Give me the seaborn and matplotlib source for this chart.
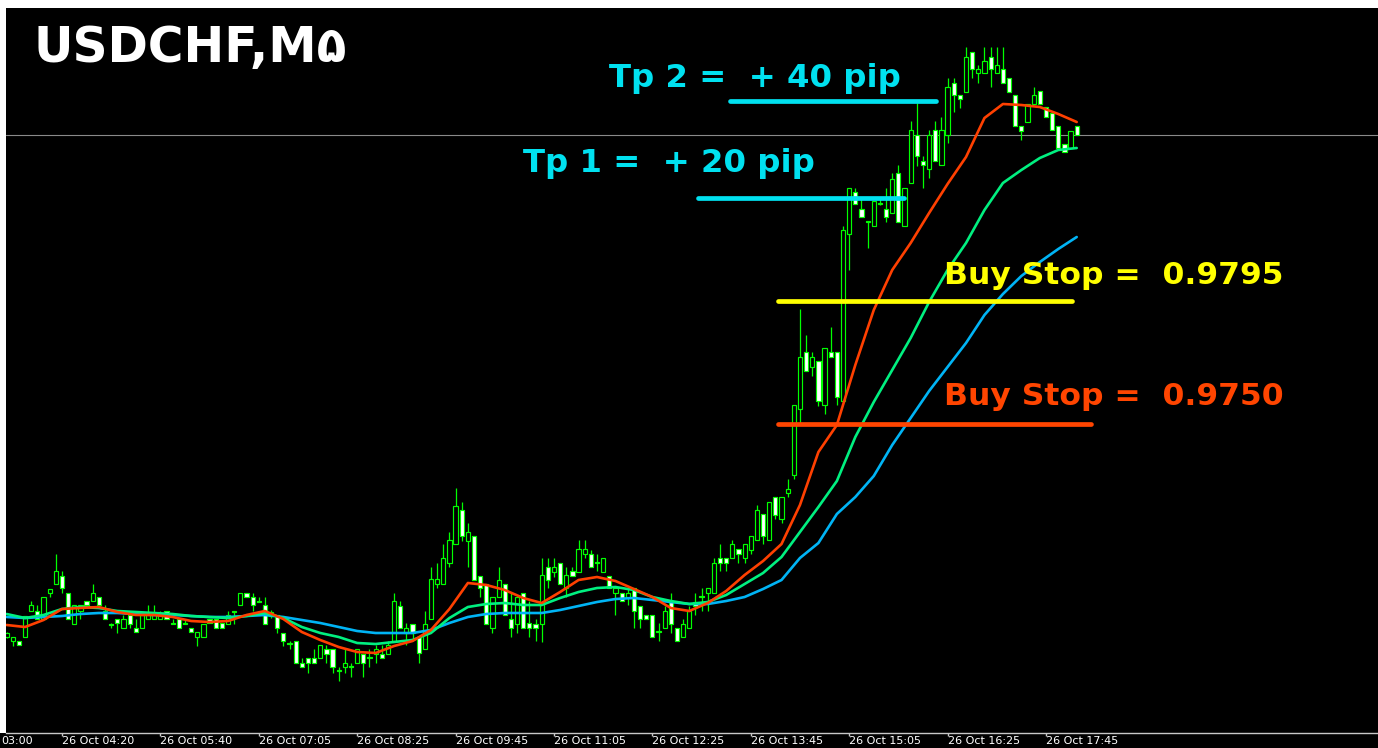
import numpy as np
import pandas as pd
import matplotlib
matplotlib.use("Agg")
import matplotlib.pyplot as plt
from matplotlib.patches import Rectangle
import seaborn as sns

# ---------------- data ----------------
symbol = "USDCHF,M۵"

opens = [
    0.96652, 0.96636, 0.96636, 0.96652, 0.96756, 0.96756, 0.96724, 0.96828, 0.96864, 0.96896,
    0.96828, 0.96704, 0.96756, 0.96796, 0.96796, 0.96812, 0.96756, 0.96704, 0.96724, 0.96688,
    0.96740, 0.96688, 0.96688, 0.96724, 0.96724, 0.96724, 0.96756, 0.96708, 0.96724, 0.96708,
    0.96688, 0.96652, 0.96652, 0.96724, 0.96724, 0.96708, 0.96704, 0.96756, 0.96780, 0.96828,
    0.96812, 0.96796, 0.96780, 0.96736, 0.96740, 0.96668, 0.96628, 0.96636, 0.96548, 0.96568,
    0.96568, 0.96568, 0.96604, 0.96604, 0.96520, 0.96532, 0.96536, 0.96548, 0.96584, 0.96572,
    0.96584, 0.96584, 0.96584, 0.96636, 0.96776, 0.96668, 0.96704, 0.96652, 0.96604, 0.96724,
    0.96864, 0.96864, 0.96948, 0.97024, 0.97160, 0.97036, 0.97056, 0.96896, 0.96864, 0.96688,
    0.96812, 0.96864, 0.96724, 0.96704, 0.96828, 0.96708, 0.96704, 0.96704, 0.96932, 0.96912,
    0.96948, 0.96848, 0.96916, 0.96912, 0.96984, 0.96984, 0.96952, 0.96912, 0.96896, 0.96828,
    0.96828, 0.96812, 0.96848, 0.96776, 0.96740, 0.96740, 0.96676, 0.96688, 0.96792, 0.96688,
    0.96652, 0.96688, 0.96792, 0.96816, 0.96828, 0.96828, 0.96968, 0.96968, 0.96968, 0.97004,
    0.96968, 0.97000, 0.97040, 0.97144, 0.97040, 0.97212, 0.97124, 0.97228, 0.97300, 0.97564,
    0.97792, 0.97732, 0.97756, 0.97580, 0.97792, 0.97792, 0.97596, 0.98264, 0.98432, 0.98364,
    0.98316, 0.98296, 0.98388, 0.98364, 0.98348, 0.98508, 0.98296, 0.98468, 0.98660, 0.98556,
    0.98524, 0.98680, 0.98540, 0.98660, 0.98868, 0.98820, 0.98832, 0.98992, 0.98908, 0.98908,
    0.98972, 0.98908, 0.98924, 0.98888, 0.98820, 0.98696, 0.98712, 0.98784, 0.98836, 0.98772,
    0.98748, 0.98696, 0.98624, 0.98608, 0.98696,
]
highs = [
    0.96672, 0.96652, 0.96636, 0.96736, 0.96796, 0.96780, 0.96812, 0.96844, 0.96984, 0.96916,
    0.96828, 0.96780, 0.96780, 0.96796, 0.96864, 0.96812, 0.96780, 0.96708, 0.96724, 0.96740,
    0.96740, 0.96724, 0.96740, 0.96780, 0.96780, 0.96756, 0.96756, 0.96724, 0.96724, 0.96724,
    0.96688, 0.96672, 0.96704, 0.96724, 0.96724, 0.96708, 0.96756, 0.96756, 0.96828, 0.96828,
    0.96828, 0.96812, 0.96812, 0.96760, 0.96740, 0.96668, 0.96636, 0.96636, 0.96568, 0.96568,
    0.96604, 0.96620, 0.96620, 0.96604, 0.96532, 0.96604, 0.96548, 0.96604, 0.96584, 0.96604,
    0.96620, 0.96620, 0.96636, 0.96828, 0.96796, 0.96708, 0.96704, 0.96652, 0.96756, 0.96932,
    0.96948, 0.97024, 0.97072, 0.97248, 0.97192, 0.97108, 0.97056, 0.96896, 0.96864, 0.96812,
    0.96932, 0.96864, 0.96828, 0.96812, 0.96828, 0.96796, 0.96724, 0.96968, 0.96968, 0.96968,
    0.96948, 0.96932, 0.96932, 0.97040, 0.97040, 0.97000, 0.96984, 0.96968, 0.96896, 0.96848,
    0.96828, 0.96848, 0.96848, 0.96776, 0.96740, 0.96740, 0.96708, 0.96776, 0.96828, 0.96688,
    0.96724, 0.96776, 0.96828, 0.96848, 0.96848, 0.96968, 0.97024, 0.96968, 0.97040, 0.97004,
    0.97024, 0.97056, 0.97180, 0.97144, 0.97192, 0.97212, 0.97212, 0.97284, 0.97580, 0.97964,
    0.97860, 0.97792, 0.97756, 0.97808, 0.97892, 0.97792, 0.98296, 0.98448, 0.98448, 0.98404,
    0.98316, 0.98396, 0.98412, 0.98448, 0.98508, 0.98540, 0.98448, 0.98716, 0.98788, 0.98576,
    0.98680, 0.98716, 0.98732, 0.98888, 0.98888, 0.98820, 0.99012, 0.98992, 0.98940, 0.99012,
    0.99012, 0.99012, 0.99012, 0.98888, 0.98820, 0.98696, 0.98784, 0.98852, 0.98836, 0.98772,
    0.98748, 0.98696, 0.98624, 0.98676, 0.98696,
]
lows = [
    0.96648, 0.96616, 0.96620, 0.96652, 0.96756, 0.96724, 0.96724, 0.96812, 0.96864, 0.96828,
    0.96724, 0.96704, 0.96724, 0.96780, 0.96796, 0.96780, 0.96724, 0.96688, 0.96668, 0.96688,
    0.96688, 0.96672, 0.96688, 0.96724, 0.96724, 0.96724, 0.96724, 0.96704, 0.96688, 0.96704,
    0.96672, 0.96616, 0.96652, 0.96708, 0.96688, 0.96688, 0.96704, 0.96704, 0.96780, 0.96812,
    0.96756, 0.96792, 0.96704, 0.96728, 0.96668, 0.96616, 0.96604, 0.96548, 0.96532, 0.96508,
    0.96548, 0.96568, 0.96548, 0.96508, 0.96476, 0.96508, 0.96492, 0.96548, 0.96492, 0.96532,
    0.96548, 0.96568, 0.96584, 0.96636, 0.96688, 0.96620, 0.96636, 0.96548, 0.96604, 0.96724,
    0.96848, 0.96864, 0.96932, 0.97024, 0.97036, 0.96932, 0.96880, 0.96812, 0.96704, 0.96668,
    0.96812, 0.96740, 0.96652, 0.96668, 0.96688, 0.96652, 0.96636, 0.96632, 0.96848, 0.96892,
    0.96864, 0.96812, 0.96896, 0.96912, 0.96968, 0.96932, 0.96916, 0.96912, 0.96848, 0.96740,
    0.96796, 0.96780, 0.96688, 0.96688, 0.96724, 0.96652, 0.96636, 0.96688, 0.96668, 0.96636,
    0.96652, 0.96688, 0.96740, 0.96756, 0.96756, 0.96828, 0.96916, 0.96916, 0.96968, 0.96948,
    0.96948, 0.96984, 0.97040, 0.97024, 0.97040, 0.97124, 0.97108, 0.97212, 0.97284, 0.97508,
    0.97716, 0.97696, 0.97576, 0.97544, 0.97772, 0.97580, 0.97596, 0.98120, 0.98384, 0.98332,
    0.98208, 0.98296, 0.98380, 0.98312, 0.98348, 0.98312, 0.98296, 0.98468, 0.98536, 0.98448,
    0.98488, 0.98556, 0.98540, 0.98628, 0.98752, 0.98768, 0.98832, 0.98888, 0.98868, 0.98908,
    0.98852, 0.98908, 0.98868, 0.98832, 0.98696, 0.98640, 0.98712, 0.98784, 0.98784, 0.98732,
    0.98680, 0.98608, 0.98592, 0.98608, 0.98660,
]
closes = [
    0.96668, 0.96652, 0.96620, 0.96736, 0.96780, 0.96724, 0.96812, 0.96844, 0.96916, 0.96848,
    0.96724, 0.96780, 0.96780, 0.96780, 0.96828, 0.96780, 0.96724, 0.96700, 0.96708, 0.96724,
    0.96704, 0.96672, 0.96740, 0.96740, 0.96740, 0.96740, 0.96724, 0.96704, 0.96688, 0.96704,
    0.96672, 0.96672, 0.96704, 0.96708, 0.96688, 0.96688, 0.96740, 0.96752, 0.96828, 0.96812,
    0.96780, 0.96792, 0.96704, 0.96752, 0.96688, 0.96636, 0.96624, 0.96548, 0.96532, 0.96548,
    0.96548, 0.96620, 0.96584, 0.96532, 0.96516, 0.96548, 0.96532, 0.96604, 0.96548, 0.96568,
    0.96604, 0.96568, 0.96620, 0.96796, 0.96688, 0.96688, 0.96668, 0.96588, 0.96704, 0.96884,
    0.96884, 0.96968, 0.97040, 0.97176, 0.97056, 0.97072, 0.96880, 0.96848, 0.96704, 0.96812,
    0.96880, 0.96740, 0.96688, 0.96812, 0.96688, 0.96688, 0.96688, 0.96900, 0.96880, 0.96932,
    0.96864, 0.96900, 0.96896, 0.97004, 0.97004, 0.96932, 0.96948, 0.96968, 0.96848, 0.96848,
    0.96796, 0.96828, 0.96756, 0.96724, 0.96724, 0.96652, 0.96672, 0.96756, 0.96704, 0.96636,
    0.96704, 0.96756, 0.96776, 0.96812, 0.96848, 0.96948, 0.96948, 0.96948, 0.97024, 0.96984,
    0.97024, 0.97056, 0.97160, 0.97056, 0.97192, 0.97140, 0.97212, 0.97244, 0.97580, 0.97772,
    0.97716, 0.97772, 0.97596, 0.97808, 0.97772, 0.97612, 0.98280, 0.98448, 0.98384, 0.98332,
    0.98312, 0.98396, 0.98384, 0.98332, 0.98484, 0.98312, 0.98448, 0.98680, 0.98576, 0.98540,
    0.98660, 0.98556, 0.98680, 0.98852, 0.98820, 0.98804, 0.98972, 0.98924, 0.98924, 0.98956,
    0.98924, 0.98940, 0.98868, 0.98832, 0.98696, 0.98676, 0.98784, 0.98820, 0.98784, 0.98732,
    0.98680, 0.98608, 0.98592, 0.98676, 0.98660,
]

# moving averages read every 3rd bar
ma_bar = list(range(0, 175, 3))
ma_fast = [
    0.96700, 0.96692, 0.96720, 0.96764, 0.96768, 0.96772, 0.96752, 0.96740, 0.96740, 0.96732,
    0.96716, 0.96712, 0.96716, 0.96740, 0.96756, 0.96724, 0.96672, 0.96640, 0.96612, 0.96592,
    0.96588, 0.96616, 0.96636, 0.96680, 0.96764, 0.96868, 0.96860, 0.96840, 0.96808, 0.96788,
    0.96832, 0.96880, 0.96892, 0.96876, 0.96844, 0.96812, 0.96768, 0.96756, 0.96788, 0.96836,
    0.96900, 0.96956, 0.97024, 0.97180, 0.97392, 0.97500, 0.97740, 0.97960, 0.98120, 0.98228,
    0.98348, 0.98464, 0.98572, 0.98728, 0.98784, 0.98780, 0.98772, 0.98744, 0.98712,
]
ma_mid = [
    0.96744, 0.96728, 0.96740, 0.96764, 0.96772, 0.96768, 0.96756, 0.96752, 0.96748, 0.96744,
    0.96736, 0.96732, 0.96728, 0.96736, 0.96748, 0.96728, 0.96692, 0.96668, 0.96652, 0.96628,
    0.96624, 0.96632, 0.96640, 0.96668, 0.96728, 0.96772, 0.96784, 0.96788, 0.96780, 0.96780,
    0.96808, 0.96832, 0.96848, 0.96852, 0.96840, 0.96812, 0.96796, 0.96784, 0.96792, 0.96820,
    0.96864, 0.96908, 0.96972, 0.97072, 0.97172, 0.97276, 0.97452, 0.97592, 0.97720, 0.97848,
    0.97992, 0.98120, 0.98228, 0.98360, 0.98468, 0.98520, 0.98568, 0.98600, 0.98608,
]
ma_slow = [
    0.96732, 0.96728, 0.96732, 0.96736, 0.96744, 0.96748, 0.96748, 0.96744, 0.96740, 0.96740,
    0.96736, 0.96732, 0.96732, 0.96736, 0.96740, 0.96732, 0.96720, 0.96708, 0.96692, 0.96676,
    0.96668, 0.96668, 0.96668, 0.96680, 0.96708, 0.96732, 0.96744, 0.96748, 0.96748, 0.96748,
    0.96760, 0.96776, 0.96792, 0.96804, 0.96808, 0.96800, 0.96792, 0.96784, 0.96784, 0.96796,
    0.96812, 0.96844, 0.96880, 0.96968, 0.97028, 0.97144, 0.97212, 0.97296, 0.97420, 0.97528,
    0.97636, 0.97732, 0.97828, 0.97940, 0.98024, 0.98096, 0.98152, 0.98204, 0.98252,
]

tick_labels = [
    "26 Oct 03:00", "26 Oct 04:20", "26 Oct 05:40", "26 Oct 07:05",
    "26 Oct 08:25", "26 Oct 09:45", "26 Oct 11:05", "26 Oct 12:25",
    "26 Oct 13:45", "26 Oct 15:05", "26 Oct 16:25", "26 Oct 17:45",
]

level_texts = ["Tp 2 =  + 40 pip", "Tp 1 =  + 20 pip",
               "Buy Stop =  0.9795", "Buy Stop =  0.9750"]
level_prices = [0.98796, 0.98408, 0.97996, 0.97504]

# ---------------- layout / style ----------------
W, H = 1378, 748
BG = "black"
CANDLE = "#00FF00"
LEVEL_COLORS = ["#00E1F0", "#00E1F0", "#FFFF00", "#FF4500"]
LEVEL_SPANS = [(117.7, 151.1), (112.5, 145.9), (125.5, 173.3), (125.5, 176.3)]
LEVEL_FONT = [23.3, 23.3, 22.6, 22.6]
TEXT_POS = [(97.9, 0.98852), (83.9, 0.98512), (152.4, 0.98062), (152.4, 0.97578)]
MA_COLORS = {"fast": "#FF4000", "mid": "#00F080", "slow": "#00B4F5"}
FIRST_TICK, TICK_STEP = -7, 16
TICK_FONT = 8.0

sns.set_theme(style="dark")
plt.rcParams["font.family"] = ["DejaVu Sans"]

fig = plt.figure(figsize=(W / 100, H / 100), dpi=100, facecolor="white")
# black chart window and the full-width time-scale strip
fig.patches.append(Rectangle((6 / W, 0), 1 - 6 / W, 1 - 8 / H,
                             transform=fig.transFigure, facecolor=BG,
                             edgecolor="none", zorder=-5))
fig.patches.append(Rectangle((0, 0), 1, 15 / H,
                             transform=fig.transFigure, facecolor=BG,
                             edgecolor="none", zorder=-5))
ax = fig.add_axes([6 / W, 1 - 733 / H, 1 - 6 / W, 725 / H])
ax.set_zorder(2)
ax.set_facecolor(BG)

o = np.array(opens); h = np.array(highs); l = np.array(lows); c = np.array(closes)
idx = np.arange(len(o))
bull = c >= o

# wicks
ax.vlines(idx, l, h, color=CANDLE, linewidth=0.9, zorder=2)
# bodies
body_bottom = np.minimum(o, c)
body_height = np.abs(c - o)
ax.bar(idx, body_height, bottom=body_bottom, width=0.68,
       color=np.where(bull, "black", "white"), edgecolor=CANDLE,
       linewidth=0.85, zorder=3)

# moving averages via seaborn
n = len(ma_bar)
ma_df = pd.DataFrame({
    "bar": ma_bar * 3,
    "price": ma_slow + ma_mid + ma_fast,
    "ma": ["slow"] * n + ["mid"] * n + ["fast"] * n,
})
sns.lineplot(data=ma_df, x="bar", y="price", hue="ma", palette=MA_COLORS,
             hue_order=["slow", "mid", "fast"], legend=False, linewidth=1.9,
             ax=ax, zorder=4)

# current price line
ax.axhline(c[-1], color="#8A8A8A", linewidth=0.8, zorder=1)

# trade levels and labels
for txt, price, col, (x0, x1), (tx, ty), fs in zip(level_texts, level_prices,
                                                  LEVEL_COLORS, LEVEL_SPANS,
                                                  TEXT_POS, LEVEL_FONT):
    ax.plot([x0, x1], [price, price], color=col, linewidth=3.4,
            solid_capstyle="round", zorder=5)
    ax.text(tx, ty, txt, color=col, fontsize=fs, fontweight="bold",
            va="baseline", ha="left", zorder=6)

# title
ax.text(27 / (W - 6), (733 - 62) / 725, symbol, transform=ax.transAxes,
        color="white", fontsize=35, fontweight="bold", va="baseline", ha="left",
        family=["DejaVu Sans", "Noto Sans"], zorder=6)

# ticks first, then limits (set_xticks would otherwise widen the view)
ax.set_xlabel(""); ax.set_ylabel("")
ax.set_yticks([])
tick_pos = [FIRST_TICK + TICK_STEP * k for k in range(len(tick_labels))]
ax.set_xticks(tick_pos)
ax.set_xticklabels(tick_labels, ha="left", color="white", fontsize=TICK_FONT)
ax.tick_params(axis="x", direction="out", length=2.2, width=1, color="#C8C8C8",
               pad=0.2, bottom=True)
ax.set_xlim(-0.1, -0.1 + (W - 6) / 6.15)
ax.set_ylim(0.99200 - 733 * 0.00004, 0.99200 - 8 * 0.00004)

# the first time label lies left of the view; only its clock part is visible
ax.annotate(tick_labels[0].split()[-1], xy=(1, H - 735.5),
            xycoords="figure pixels", ha="left", va="top",
            color="white", fontsize=TICK_FONT, annotation_clip=False)

ax.grid(False)
for side in ["top", "right", "left"]:
    ax.spines[side].set_visible(False)
ax.spines["bottom"].set_visible(True)
ax.spines["bottom"].set_color("#C8C8C8")
ax.spines["bottom"].set_linewidth(1)

fig.savefig("out.png", dpi=100, facecolor="white")
